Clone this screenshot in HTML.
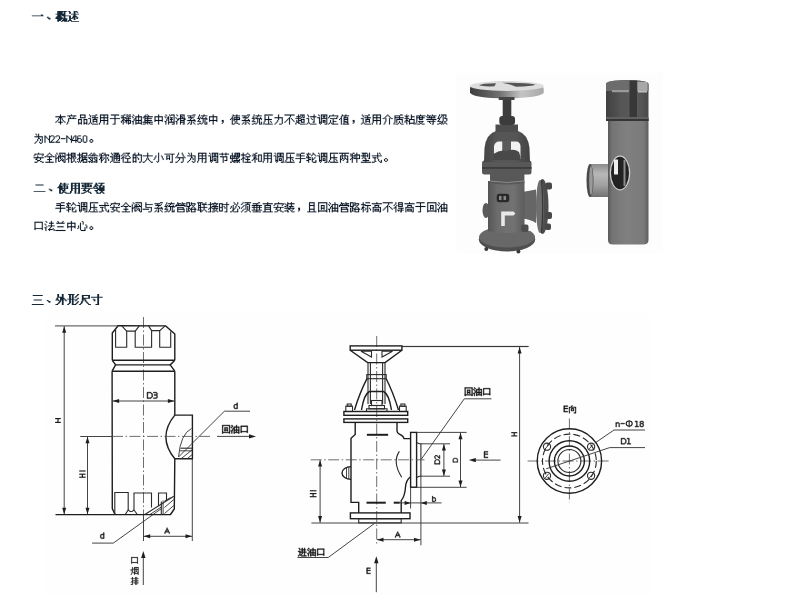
<!DOCTYPE html>
<html><head><meta charset="utf-8"><style>
html,body{margin:0;padding:0;background:#fff;width:800px;height:595px;overflow:hidden}
svg{display:block}
.k{fill:none;stroke:#1e1e1e;stroke-width:1.4}
.k2{fill:none;stroke:#2a2a2a;stroke-width:1.1}
.k3{fill:none;stroke:#1e1e1e;stroke-width:2}
.t{fill:none;stroke:#303030;stroke-width:0.9}
.c{fill:none;stroke:#4a4a4a;stroke-width:0.8;stroke-dasharray:11 2.5 1.5 2.5}
.dash{fill:none;stroke:#2a2a2a;stroke-width:1.1;stroke-dasharray:7 3}
.ah{fill:#1e1e1e;stroke:none}
.lb{fill:none;stroke:#1a1a1a;stroke-width:1.15}
</style></head><body>
<svg width="800" height="595" viewBox="0 0 800 595">
<rect x="456.5" y="72.7" width="206.2" height="180.9" fill="#fdfdfd"/>
<rect x="45.7" y="313.3" width="604.5" height="282" fill="#fefefe"/>
<defs><path id="g0" d="M10 -7h2v1h-2zM0 -6h13v1h-13z"/><path id="g1" d="M3 -2h2v1h-2zM4 -1h3v1h-3zM5 0h2v1h-2z"/><path id="g2" d="M9 -10h2v2h-2zM2 -6h4v1h-4zM7 -6h6v1h-6zM2 -11h11v1h-11zM2 -10h6v2h-6zM9 -5h2v2h-2zM0 -8h11v1h-11zM2 -7h9v1h-9zM2 -1h4v1h-4zM7 -1h6v1h-6zM1 -5h6v1h-6zM0 -4h8v1h-8zM0 -3h13v1h-13zM2 -2h5v1h-5zM8 -2h5v1h-5zM2 0h2v1h-2zM6 0h2v1h-2zM9 0h4v1h-4z"/><path id="g3" d="M7 -10h2v2h-2zM2 -10h2v2h-2zM10 -10h2v1h-2zM7 -7h2v1h-2zM2 -5h2v2h-2zM4 -8h9v1h-9zM1 -11h2v1h-2zM7 -11h4v1h-4zM2 -2h2v1h-2zM7 -3h2v2h-2zM10 -4h2v2h-2zM4 0h9v1h-9zM0 -6h4v1h-4zM6 -6h4v1h-4zM6 -5h5v1h-5zM5 -4h4v1h-4zM2 -3h4v1h-4zM1 -1h4v1h-4zM0 0h2v1h-2z"/><path id="g4" d="M5 -10h1v2h-1zM5 -6h1v4h-1zM5 -1h1v2h-1zM0 -8h11v1h-11zM4 -7h3v1h-3zM3 -6h1v2h-1zM7 -6h1v2h-1zM2 -4h1v1h-1zM8 -4h1v1h-1zM1 -3h1v1h-1zM9 -3h1v1h-1zM0 -2h1v1h-1zM3 -2h5v1h-5zM10 -2h1v1h-1z"/><path id="g5" d="M5 -10h1v1h-1zM1 -9h10v1h-10zM3 -8h1v1h-1zM8 -8h1v1h-1zM4 -7h1v1h-1zM7 -7h1v1h-1zM2 -6h9v1h-9zM2 -5h1v3h-1zM1 -2h1v2h-1zM0 0h1v1h-1z"/><path id="g6" d="M3 -10h6v1h-6zM1 -5h4v1h-4zM7 -5h4v1h-4zM1 -4h1v3h-1zM4 -4h1v3h-1zM7 -4h1v3h-1zM10 -4h1v3h-1zM3 -7h6v1h-6zM3 -9h1v2h-1zM8 -9h1v2h-1zM1 -1h4v1h-4zM7 -1h4v1h-4zM1 0h1v1h-1zM4 0h1v1h-1zM7 0h1v1h-1zM10 0h1v1h-1z"/><path id="g7" d="M7 -8h1v1h-1zM2 -9h1v2h-1zM5 -5h5v1h-5zM5 -4h1v1h-1zM9 -4h1v1h-1zM1 -10h1v1h-1zM4 -7h7v1h-7zM1 -1h1v1h-1zM8 -10h2v1h-2zM2 -5h1v4h-1zM4 -9h4v1h-4zM7 -6h1v1h-1zM4 0h7v1h-7zM0 -6h3v1h-3zM5 -3h5v1h-5zM5 -2h1v1h-1zM9 -2h1v1h-1zM3 -1h1v1h-1zM0 0h1v1h-1z"/><path id="g8" d="M1 -10h9v1h-9zM1 -9h1v2h-1zM5 -9h1v2h-1zM9 -9h1v2h-1zM1 -7h9v1h-9zM1 -6h1v2h-1zM5 -6h1v2h-1zM9 -6h1v2h-1zM1 -4h9v1h-9zM1 -3h1v2h-1zM5 -3h1v4h-1zM9 -3h1v3h-1zM0 -1h1v2h-1zM8 0h2v1h-2z"/><path id="g9" d="M5 -9h1v3h-1zM1 -10h9v1h-9zM5 -5h1v5h-1zM0 -6h11v1h-11zM3 0h3v1h-3z"/><path id="g10" d="M6 -10h2v1h-2zM9 -10h2v1h-2zM8 -9h1v1h-1zM2 -8h1v1h-1zM8 -7h1v1h-1zM2 -6h1v1h-1zM8 -5h1v1h-1zM6 -5h1v1h-1zM8 -3h1v2h-1zM3 -10h2v1h-2zM6 -8h2v1h-2zM9 -8h2v1h-2zM0 -9h3v1h-3zM8 0h1v1h-1zM2 -3h1v4h-1zM0 -7h6v1h-6zM5 -6h6v1h-6zM2 -5h2v1h-2zM6 -2h1v2h-1zM1 -4h2v1h-2zM4 -4h7v1h-7zM0 -3h1v2h-1zM5 -3h2v1h-2zM10 -3h1v2h-1zM4 -2h1v1h-1zM8 -1h3v1h-3z"/><path id="g11" d="M1 -10h1v1h-1zM7 -10h1v2h-1zM2 -9h1v1h-1zM4 -7h1v1h-1zM4 -8h7v1h-7zM4 -5h1v1h-1zM7 -7h1v3h-1zM10 -7h1v3h-1zM1 -7h1v1h-1zM4 -4h7v1h-7zM4 -3h1v2h-1zM10 -3h1v2h-1zM1 -2h1v3h-1zM7 -3h1v2h-1zM2 -5h1v2h-1zM0 -8h1v1h-1zM4 -1h7v1h-7zM4 0h1v1h-1zM10 0h1v1h-1zM3 -6h2v1h-2zM0 -3h2v1h-2z"/><path id="g12" d="M2 -9h1v1h-1zM5 -10h1v1h-1zM2 -7h1v1h-1zM5 -7h1v1h-1zM2 -6h8v1h-8zM2 -5h1v1h-1zM5 -5h1v1h-1zM3 -10h1v1h-1zM5 -3h1v1h-1zM3 -1h1v1h-1zM5 -1h1v2h-1zM2 -3h1v1h-1zM6 -9h1v1h-1zM1 -8h10v1h-10zM0 -7h1v1h-1zM2 -4h8v1h-8zM0 -2h11v1h-11zM7 -1h1v1h-1zM0 0h3v1h-3zM8 0h3v1h-3z"/><path id="g13" d="M5 -10h1v2h-1zM1 -8h9v1h-9zM1 -7h1v3h-1zM5 -7h1v3h-1zM9 -7h1v3h-1zM5 -3h1v4h-1zM1 -4h9v1h-9zM1 -3h1v1h-1zM9 -3h1v1h-1z"/><path id="g14" d="M1 -10h1v1h-1zM2 -9h1v1h-1zM4 -8h1v1h-1zM6 -7h3v1h-3zM7 -6h1v1h-1zM1 -7h1v1h-1zM4 -5h1v3h-1zM10 -9h1v7h-1zM1 -2h1v3h-1zM5 -10h1v1h-1zM7 -10h4v1h-4zM2 -5h1v2h-1zM6 -9h1v1h-1zM10 -1h1v1h-1zM0 -8h1v1h-1zM4 -1h1v2h-1zM3 -7h2v2h-2zM6 -5h3v1h-3zM7 -4h1v2h-1zM0 -3h2v1h-2zM4 -2h7v1h-7zM8 0h3v1h-3z"/><path id="g15" d="M5 -9h1v1h-1zM1 -10h1v1h-1zM5 -7h1v1h-1zM2 -9h1v1h-1zM5 -10h5v1h-5zM5 -5h1v1h-1zM9 -9h1v3h-1zM1 -6h1v1h-1zM5 -4h5v1h-5zM5 -3h1v1h-1zM9 -3h1v1h-1zM1 -2h1v3h-1zM5 -2h5v1h-5zM2 -4h1v1h-1zM5 -1h1v2h-1zM9 -1h1v1h-1zM5 -8h3v1h-3zM0 -7h1v1h-1zM7 -7h1v1h-1zM3 -6h8v1h-8zM2 -5h2v1h-2zM9 -5h2v1h-2zM0 -3h2v1h-2zM8 0h2v1h-2z"/><path id="g16" d="M4 -8h1v1h-1zM8 -8h1v1h-1zM5 -6h1v1h-1zM8 -5h1v1h-1zM9 -3h1v1h-1zM7 -10h3v1h-3zM1 -9h6v1h-6zM4 -5h1v1h-1zM8 -1h1v1h-1zM2 -7h6v1h-6zM5 -3h1v3h-1zM1 -4h9v1h-9zM9 0h1v1h-1zM3 -2h1v1h-1zM7 -2h1v1h-1zM2 -1h1v1h-1zM1 0h1v1h-1zM4 0h2v1h-2z"/><path id="g17" d="M4 -9h7v1h-7zM2 -10h1v2h-1zM6 -8h1v1h-1zM1 -8h1v2h-1zM10 -5h1v1h-1zM5 -7h1v1h-1zM2 -5h1v1h-1zM7 -10h1v1h-1zM4 -6h7v1h-7zM1 -4h1v1h-1zM6 -5h1v4h-1zM3 -7h1v1h-1zM5 -1h1v1h-1zM9 -7h1v1h-1zM0 -6h3v1h-3zM8 -5h1v5h-1zM10 -2h1v2h-1zM0 -3h4v1h-4zM2 -1h2v1h-2zM0 0h2v1h-2zM4 0h1v1h-1zM8 0h3v1h-3z"/><path id="g18" d="M3 -4h2v2h-2zM4 -2h1v1h-1zM3 -1h1v1h-1z"/><path id="g19" d="M7 -10h1v1h-1zM7 -8h1v1h-1zM2 -8h1v2h-1zM4 -7h7v1h-7zM4 -6h1v1h-1zM7 -6h1v1h-1zM5 -3h1v1h-1zM3 -10h1v1h-1zM7 -4h1v2h-1zM3 -9h8v1h-8zM2 -5h1v5h-1zM4 -5h7v1h-7zM1 -6h2v1h-2zM4 -4h1v1h-1zM10 -6h1v1h-1zM0 -5h1v1h-1zM5 -1h1v1h-1zM6 -2h1v1h-1zM7 -1h2v1h-2zM2 0h3v1h-3zM9 0h2v1h-2z"/><path id="g20" d="M2 -9h1v4h-1zM6 -8h1v3h-1zM2 -10h9v1h-9zM2 0h9v1h-9zM2 -4h1v2h-1zM6 -4h1v4h-1zM2 -5h8v1h-8zM8 -3h1v1h-1zM1 -2h1v2h-1zM9 -2h1v1h-1zM0 0h1v1h-1z"/><path id="g21" d="M5 -10h1v3h-1zM5 -6h1v2h-1zM1 -7h9v1h-9zM9 -6h1v6h-1zM4 -4h1v2h-1zM3 -2h1v1h-1zM2 -1h1v1h-1zM1 0h1v1h-1zM6 0h3v1h-3z"/><path id="g22" d="M5 -7h1v1h-1zM0 -10h11v1h-11zM6 -9h1v2h-1zM5 -5h1v6h-1zM4 -6h2v1h-2zM7 -6h1v1h-1zM3 -5h1v1h-1zM8 -5h1v1h-1zM2 -4h1v1h-1zM9 -4h1v1h-1zM1 -3h1v1h-1zM10 -3h1v1h-1zM0 -2h1v1h-1z"/><path id="g23" d="M3 -10h1v2h-1zM3 -7h1v1h-1zM9 -9h1v2h-1zM3 -5h1v1h-1zM6 -7h1v1h-1zM6 -5h4v1h-4zM3 -3h1v1h-1zM5 -10h5v1h-5zM7 -9h1v2h-1zM9 -4h1v2h-1zM1 -8h5v1h-5zM6 -3h1v1h-1zM8 -7h2v1h-2zM0 -6h6v1h-6zM6 -2h4v1h-4zM1 -4h1v2h-1zM3 -4h4v1h-4zM1 -2h3v1h-3zM0 -1h1v2h-1zM3 -1h2v1h-2zM5 0h6v1h-6z"/><path id="g24" d="M8 -10h1v2h-1zM2 -9h1v2h-1zM1 -10h1v1h-1zM4 -8h7v1h-7zM1 -1h1v1h-1zM8 -7h1v5h-1zM2 -5h1v4h-1zM4 0h7v1h-7zM0 -6h3v1h-3zM5 -6h1v1h-1zM6 -5h1v1h-1zM7 -2h2v1h-2zM3 -1h1v1h-1zM0 0h1v1h-1z"/><path id="g25" d="M7 -9h1v1h-1zM2 -9h1v1h-1zM4 -10h7v1h-7zM4 -9h1v3h-1zM10 -9h1v3h-1zM6 -8h3v1h-3zM6 -4h3v1h-3zM2 -6h1v4h-1zM4 -5h1v3h-1zM1 -10h1v1h-1zM4 -6h7v1h-7zM2 -1h1v1h-1zM4 -1h1v1h-1zM7 -7h1v1h-1zM10 -5h1v5h-1zM6 -2h3v1h-3zM0 -7h3v1h-3zM6 -3h1v1h-1zM8 -3h1v1h-1zM2 -2h3v1h-3zM3 0h1v1h-1zM8 0h3v1h-3z"/><path id="g26" d="M5 -10h1v1h-1zM5 -5h1v2h-1zM1 -8h1v1h-1zM0 -7h1v1h-1zM5 -2h1v2h-1zM1 -9h10v1h-10zM1 -1h1v1h-1zM10 -8h1v1h-1zM0 0h1v1h-1zM9 -7h1v1h-1zM2 -6h8v1h-8zM2 -4h1v3h-1zM5 -3h4v1h-4zM3 -1h1v1h-1zM4 0h7v1h-7z"/><path id="g27" d="M2 -8h1v2h-1zM5 -7h5v1h-5zM5 -6h1v1h-1zM9 -6h1v1h-1zM5 -4h1v1h-1zM9 -4h1v2h-1zM3 -10h1v1h-1zM7 -10h1v1h-1zM3 -9h8v1h-8zM2 -5h1v6h-1zM6 -8h1v1h-1zM5 -5h5v1h-5zM1 -6h2v1h-2zM5 -2h1v2h-1zM9 -1h1v1h-1zM0 -5h1v1h-1zM5 -3h3v1h-3zM7 -2h3v1h-3zM4 0h7v1h-7z"/><path id="g28" d="M3 -8h1v1h-1zM7 -8h1v1h-1zM2 -7h1v1h-1zM5 -10h1v1h-1zM4 -9h1v1h-1zM6 -9h1v1h-1zM3 -6h1v4h-1zM7 -6h1v7h-1zM2 -2h1v2h-1zM8 -7h1v1h-1zM0 -6h2v1h-2zM9 -6h2v1h-2zM1 0h1v1h-1z"/><path id="g29" d="M1 -8h1v1h-1zM6 -8h1v1h-1zM6 -6h1v1h-1zM7 -10h3v1h-3zM1 -9h6v1h-6zM1 -6h1v5h-1zM6 -3h1v2h-1zM1 -7h10v1h-10zM3 -5h7v1h-7zM3 -4h1v3h-1zM9 -4h1v3h-1zM0 -1h1v2h-1zM5 -1h1v1h-1zM7 -1h1v1h-1zM2 0h3v1h-3zM8 0h3v1h-3z"/><path id="g30" d="M2 -10h1v2h-1zM7 -10h1v2h-1zM2 -7h1v1h-1zM1 -8h3v1h-3zM0 -9h1v1h-1zM2 -5h1v1h-1zM5 -4h1v1h-1zM5 -5h6v1h-6zM5 -2h1v1h-1zM10 -4h1v3h-1zM2 -3h1v4h-1zM7 -7h1v2h-1zM0 -3h1v2h-1zM4 -9h1v1h-1zM1 -4h3v1h-3zM7 -8h4v1h-4zM0 -6h5v1h-5zM5 -1h6v1h-6zM5 0h1v1h-1zM10 0h1v1h-1zM4 -3h2v1h-2z"/><path id="g31" d="M1 -8h1v1h-1zM4 -8h1v1h-1zM7 -8h1v1h-1zM4 -6h1v1h-1zM7 -6h1v1h-1zM5 -10h1v1h-1zM1 -9h10v1h-10zM1 -6h1v5h-1zM4 -2h1v1h-1zM7 -2h1v1h-1zM1 -7h9v1h-9zM4 -5h4v1h-4zM3 -3h6v1h-6zM0 -1h1v2h-1zM5 -1h2v1h-2zM2 0h3v1h-3zM7 0h3v1h-3z"/><path id="g32" d="M5 -8h1v1h-1zM1 -7h9v1h-9zM3 -8h1v1h-1zM7 -4h1v1h-1zM1 -10h1v1h-1zM6 -10h1v1h-1zM1 -9h4v1h-4zM6 -9h5v1h-5zM0 -8h1v1h-1zM3 -2h1v1h-1zM5 -6h1v1h-1zM8 -8h1v1h-1zM1 -3h9v1h-9zM0 -5h11v1h-11zM7 -2h1v2h-1zM4 -1h1v1h-1zM6 0h2v1h-2z"/><path id="g33" d="M2 -10h1v2h-1zM1 -8h1v2h-1zM9 -9h1v2h-1zM8 -7h1v1h-1zM5 -3h1v1h-1zM7 -3h1v1h-1zM9 -3h1v1h-1zM4 -8h1v1h-1zM6 -9h1v6h-1zM10 -5h1v2h-1zM2 -5h1v1h-1zM4 -10h6v1h-6zM6 0h1v1h-1zM9 -1h1v1h-1zM1 -4h1v1h-1zM4 0h1v1h-1zM3 -7h1v1h-1zM8 -2h1v1h-1zM0 -6h3v1h-3zM8 -6h3v1h-3zM10 0h1v1h-1zM0 -3h4v1h-4zM5 -1h1v1h-1zM7 -1h1v1h-1zM4 -2h2v1h-2zM2 -1h2v1h-2zM0 0h2v1h-2z"/><path id="g34" d="M5 -10h1v3h-1zM3 -9h1v1h-1zM2 -10h1v1h-1zM2 -1h1v1h-1zM5 -6h1v1h-1zM3 -2h1v1h-1zM1 -7h9v1h-9zM9 -6h1v6h-1zM5 -5h2v1h-2zM4 -4h1v2h-1zM7 -4h1v2h-1zM6 -1h1v1h-1zM1 0h1v1h-1zM7 0h2v1h-2z"/><path id="g35" d="M0 -8h1v1h-1zM5 -8h1v4h-1zM0 -6h1v6h-1zM5 -3h1v3h-1zM0 -7h2v1h-2zM2 -6h1v1h-1zM3 -5h1v1h-1zM4 -4h2v1h-2z"/><path id="g36" d="M1 -8h3v1h-3zM0 -7h1v1h-1zM4 -7h1v3h-1zM3 -4h1v1h-1zM2 -3h1v1h-1zM1 -2h1v1h-1zM0 -1h5v1h-5z"/><path id="g37" d="M0 -5h5v1h-5z"/><path id="g38" d="M4 -7h1v4h-1zM3 -8h2v1h-2zM2 -7h1v1h-1zM4 -2h1v2h-1zM1 -6h1v2h-1zM0 -4h1v1h-1zM0 -3h6v1h-6z"/><path id="g39" d="M0 -7h1v2h-1zM1 -8h3v1h-3zM1 -1h3v1h-3zM0 -4h1v3h-1zM0 -5h4v1h-4zM4 -4h1v3h-1z"/><path id="g40" d="M1 -8h3v1h-3zM1 -1h3v1h-3zM0 -7h1v6h-1zM4 -7h1v6h-1z"/><path id="g41" d="M4 -4h2v1h-2zM4 -1h2v1h-2zM3 -3h1v2h-1zM6 -3h1v2h-1z"/><path id="g42" d="M4 -7h1v2h-1zM5 -10h1v1h-1zM1 -9h10v1h-10zM1 -8h1v1h-1zM10 -8h1v1h-1zM0 -7h1v1h-1zM4 -1h1v1h-1zM9 -7h1v1h-1zM0 -5h11v1h-11zM3 -4h1v1h-1zM7 -4h1v2h-1zM2 -3h2v1h-2zM4 -2h3v1h-3zM7 -1h2v1h-2zM1 0h3v1h-3zM9 0h2v1h-2z"/><path id="g43" d="M5 -10h1v1h-1zM3 -6h5v1h-5zM5 -5h1v2h-1zM5 -2h1v2h-1zM4 -9h1v1h-1zM6 -9h1v1h-1zM3 -8h1v1h-1zM7 -8h1v1h-1zM2 -7h1v1h-1zM8 -7h1v1h-1zM0 -6h2v1h-2zM3 -3h5v1h-5zM9 -6h2v1h-2zM1 0h9v1h-9z"/><path id="g44" d="M5 -7h1v1h-1zM10 -9h1v3h-1zM3 -7h1v1h-1zM7 -8h1v1h-1zM0 -8h1v4h-1zM8 -7h1v1h-1zM5 -5h1v2h-1zM8 -3h1v1h-1zM1 -10h1v1h-1zM4 -10h7v1h-7zM2 -9h1v1h-1zM10 -5h1v5h-1zM0 -3h1v4h-1zM4 -8h2v1h-2zM7 -4h1v1h-1zM3 -4h1v3h-1zM5 -2h1v1h-1zM8 -1h1v1h-1zM3 -6h8v1h-8zM2 -5h2v1h-2zM0 -4h2v1h-2zM6 -3h1v1h-1zM7 -2h2v1h-2zM3 -1h2v1h-2zM9 0h2v1h-2z"/><path id="g45" d="M2 -10h1v2h-1zM5 -9h1v1h-1zM9 -9h1v1h-1zM5 -10h5v1h-5zM5 -7h1v1h-1zM9 -7h1v1h-1zM2 -7h1v2h-1zM5 -5h1v1h-1zM7 -5h1v2h-1zM9 -4h1v1h-1zM10 -5h1v1h-1zM2 -3h1v4h-1zM5 -6h5v1h-5zM5 -3h1v3h-1zM9 -1h1v1h-1zM0 -8h10v1h-10zM2 -5h2v1h-2zM7 -1h1v1h-1zM10 0h1v1h-1zM1 -4h2v1h-2zM4 -4h2v1h-2zM0 -3h1v1h-1zM8 -3h1v2h-1zM5 0h2v1h-2z"/><path id="g46" d="M2 -10h1v2h-1zM5 -10h6v1h-6zM5 -7h6v1h-6zM5 -9h1v1h-1zM8 -6h1v1h-1zM2 -7h1v2h-1zM5 -5h6v1h-6zM10 -9h1v2h-1zM0 -3h1v1h-1zM2 -3h1v3h-1zM5 -3h6v1h-6zM5 -4h1v1h-1zM10 -2h1v2h-1zM0 -8h6v1h-6zM4 -6h2v1h-2zM8 -4h1v1h-1zM2 -5h2v1h-2zM1 -4h2v1h-2zM0 -1h1v1h-1zM4 -2h3v1h-3zM4 -1h1v1h-1zM6 -1h1v1h-1zM1 0h1v1h-1zM3 0h1v1h-1zM6 0h5v1h-5z"/><path id="g47" d="M6 -10h1v1h-1zM1 -8h1v1h-1zM4 -8h1v1h-1zM6 -8h1v1h-1zM2 -9h1v1h-1zM7 -9h1v1h-1zM4 -4h1v2h-1zM9 -4h1v2h-1zM1 -4h1v1h-1zM3 -2h2v1h-2zM6 -4h1v1h-1zM8 -2h2v1h-2zM3 -10h1v1h-1zM6 0h1v1h-1zM2 -3h1v1h-1zM5 -9h1v1h-1zM7 -3h1v1h-1zM1 0h1v1h-1zM4 -1h1v1h-1zM8 -8h1v1h-1zM0 -7h1v1h-1zM2 -7h6v1h-6zM9 -7h2v1h-2zM0 -5h5v1h-5zM6 -5h4v1h-4zM9 -1h1v1h-1zM3 0h2v1h-2zM8 0h2v1h-2zM0 -1h3v1h-3zM6 -1h2v1h-2z"/><path id="g48" d="M2 -8h1v1h-1zM2 -6h1v1h-1zM10 -7h1v1h-1zM2 -3h1v1h-1zM3 -10h2v1h-2zM6 -10h1v2h-1zM0 -9h3v1h-3zM2 -1h1v2h-1zM5 -8h6v1h-6zM0 -7h5v1h-5zM7 -7h1v7h-1zM10 -3h1v2h-1zM1 -5h3v1h-3zM5 -5h1v2h-1zM9 -5h1v2h-1zM1 -4h2v1h-2zM0 -3h1v1h-1zM4 -3h1v1h-1zM2 -2h2v1h-2zM6 0h2v1h-2z"/><path id="g49" d="M4 -8h7v1h-7zM2 -9h1v2h-1zM4 -7h1v1h-1zM7 -7h1v1h-1zM10 -7h1v1h-1zM4 -6h7v1h-7zM4 -5h1v1h-1zM7 -5h1v1h-1zM10 -5h1v1h-1zM1 -10h1v1h-1zM4 -4h7v1h-7zM1 -1h1v1h-1zM4 -10h6v1h-6zM2 -5h1v4h-1zM6 -9h1v1h-1zM8 -9h1v1h-1zM4 0h7v1h-7zM4 -3h1v2h-1zM7 -3h1v2h-1zM10 -3h1v1h-1zM0 -6h3v1h-3zM9 -2h2v1h-2zM3 -1h1v1h-1zM0 0h1v1h-1z"/><path id="g50" d="M3 -10h1v1h-1zM8 -9h1v1h-1zM2 -9h1v1h-1zM4 -8h1v1h-1zM0 -7h1v1h-1zM2 -6h1v1h-1zM5 -10h5v1h-5zM7 -8h1v1h-1zM3 -7h1v1h-1zM5 -4h5v1h-5zM2 -4h1v5h-1zM8 -7h1v1h-1zM1 -8h1v1h-1zM4 -5h1v1h-1zM7 -3h1v3h-1zM0 -4h1v1h-1zM6 -7h1v1h-1zM5 -6h1v1h-1zM9 -6h1v1h-1zM1 -5h2v1h-2zM10 -5h1v1h-1zM4 0h7v1h-7z"/><path id="g51" d="M1 -8h4v1h-4zM1 -7h1v2h-1zM4 -6h1v1h-1zM7 -10h1v2h-1zM1 -5h4v1h-4zM1 -4h1v3h-1zM4 -4h1v3h-1zM3 -10h1v1h-1zM7 -4h1v2h-1zM2 -9h1v1h-1zM1 -1h4v1h-4zM6 -8h5v1h-5zM1 0h1v1h-1zM4 -7h2v1h-2zM10 -7h1v7h-1zM4 0h1v1h-1zM6 -5h1v1h-1zM8 0h2v1h-2z"/><path id="g52" d="M5 -10h1v3h-1zM5 -6h1v2h-1zM0 -7h11v1h-11zM4 -4h1v2h-1zM6 -4h1v2h-1zM3 -2h1v1h-1zM7 -2h1v1h-1zM2 -1h1v1h-1zM8 -1h1v1h-1zM0 0h2v1h-2zM9 0h2v1h-2z"/><path id="g53" d="M5 -10h1v10h-1zM2 -7h1v2h-1zM8 -7h1v1h-1zM9 -6h1v2h-1zM1 -5h1v2h-1zM10 -4h1v2h-1zM0 -3h1v1h-1zM3 -1h1v1h-1zM4 0h1v1h-1z"/><path id="g54" d="M2 -7h4v1h-4zM2 -6h1v2h-1zM5 -6h1v2h-1zM0 -9h11v1h-11zM8 -8h1v8h-1zM2 -4h4v1h-4zM2 -3h1v1h-1zM5 -3h1v1h-1zM6 0h3v1h-3z"/><path id="g55" d="M8 -8h1v2h-1zM3 -10h1v2h-1zM2 -8h1v2h-1zM3 -2h1v1h-1zM7 -10h1v2h-1zM2 -1h1v1h-1zM8 -4h1v4h-1zM1 -6h1v1h-1zM9 -6h1v1h-1zM0 -5h1v1h-1zM2 -5h7v1h-7zM10 -5h1v1h-1zM4 -4h1v2h-1zM0 0h2v1h-2zM6 0h2v1h-2z"/><path id="g56" d="M3 -10h1v1h-1zM7 -10h1v1h-1zM3 -8h1v1h-1zM7 -8h1v1h-1zM0 -9h11v1h-11zM1 -6h8v1h-8zM4 -5h1v6h-1zM8 -5h1v3h-1zM6 -2h3v1h-3z"/><path id="g57" d="M5 -10h6v1h-6zM8 -9h1v1h-1zM10 -9h1v1h-1zM2 -10h1v3h-1zM2 -6h1v2h-1zM7 -5h1v1h-1zM10 -7h1v1h-1zM4 -6h7v1h-7zM10 -3h1v1h-1zM2 -3h1v2h-1zM5 -8h6v1h-6zM5 -9h1v1h-1zM8 -7h1v1h-1zM10 0h1v1h-1zM0 -7h6v1h-6zM0 -6h1v2h-1zM4 -2h7v1h-7zM4 -5h1v1h-1zM7 -3h1v1h-1zM9 -5h1v1h-1zM0 -4h9v1h-9zM2 -1h3v1h-3zM6 -1h1v1h-1zM8 -1h2v1h-2zM0 0h2v1h-2zM4 0h2v1h-2zM7 0h2v1h-2z"/><path id="g58" d="M2 -10h1v2h-1zM7 -10h1v1h-1zM2 -7h1v2h-1zM5 -6h5v1h-5zM7 -5h1v2h-1zM2 -3h1v4h-1zM7 -2h1v2h-1zM6 -9h1v1h-1zM8 -9h1v1h-1zM0 -8h6v1h-6zM9 -8h1v1h-1zM10 -7h1v1h-1zM5 -3h5v1h-5zM2 -5h2v1h-2zM1 -4h2v1h-2zM4 -4h1v1h-1zM0 -3h1v1h-1zM4 0h7v1h-7z"/><path id="g59" d="M3 -8h1v1h-1zM3 -6h1v1h-1zM7 -8h4v1h-4zM4 -10h2v1h-2zM1 -9h3v1h-3zM3 -3h1v4h-1zM7 -1h4v1h-4zM0 -7h6v1h-6zM7 -7h1v6h-1zM10 -7h1v6h-1zM2 -5h3v1h-3zM2 -4h2v1h-2zM5 -4h1v2h-1zM1 -3h1v1h-1zM0 -2h1v1h-1z"/><path id="g60" d="M5 -8h1v1h-1zM5 -6h1v2h-1zM6 -10h4v1h-4zM1 -9h5v1h-5zM5 -3h1v3h-1zM1 -7h9v1h-9zM0 -4h11v1h-11zM4 0h2v1h-2z"/><path id="g61" d="M2 -10h1v1h-1zM0 -9h5v1h-5zM6 -8h1v1h-1zM9 -8h1v1h-1zM2 -6h1v1h-1zM6 -5h1v2h-1zM10 -7h1v1h-1zM2 -4h1v1h-1zM2 -1h1v2h-1zM7 -10h1v1h-1zM0 -5h5v1h-5zM7 -9h2v1h-2zM1 -8h1v1h-1zM6 -2h1v2h-1zM9 -5h1v1h-1zM1 -7h2v1h-2zM5 -7h1v1h-1zM10 -2h1v2h-1zM0 -6h1v1h-1zM8 -4h1v1h-1zM2 -3h3v1h-3zM6 -3h2v1h-2zM0 -2h3v1h-3zM7 0h4v1h-4z"/><path id="g62" d="M3 -9h1v2h-1zM6 -9h1v2h-1zM1 -6h1v3h-1zM9 -6h1v3h-1zM8 -3h2v1h-2zM0 -10h11v1h-11zM3 -6h1v2h-1zM6 -6h1v2h-1zM1 -7h9v1h-9zM1 -2h1v3h-1zM9 -2h1v2h-1zM3 -4h2v1h-2zM6 -4h2v1h-2zM1 -3h2v1h-2zM5 -3h1v1h-1zM8 0h2v1h-2zM4 -2h1v1h-1z"/><path id="g63" d="M7 -10h1v2h-1zM2 -8h1v1h-1zM2 -6h1v1h-1zM7 -7h1v3h-1zM3 -10h2v1h-2zM7 -3h1v4h-1zM0 -9h3v1h-3zM2 -3h1v4h-1zM5 -8h6v1h-6zM0 -7h6v1h-6zM10 -7h1v3h-1zM5 -6h1v2h-1zM2 -5h2v1h-2zM1 -4h2v1h-2zM4 -4h7v1h-7zM0 -3h1v1h-1z"/><path id="g64" d="M2 -9h1v2h-1zM4 -9h1v2h-1zM7 -9h1v2h-1zM5 -3h1v1h-1zM1 -10h6v1h-6zM9 -10h1v6h-1zM2 -6h1v2h-1zM4 -6h1v2h-1zM7 -6h1v1h-1zM0 -7h8v1h-8zM1 -4h1v1h-1zM4 -4h2v1h-2zM8 -4h2v1h-2zM5 -1h1v1h-1zM2 -2h7v1h-7zM0 0h11v1h-11z"/><path id="g65" d="M6 -10h1v3h-1zM8 -10h1v1h-1zM6 -6h1v3h-1zM8 -1h1v1h-1zM9 -9h1v1h-1zM0 -7h11v1h-11zM1 -5h4v1h-4zM3 -4h1v3h-1zM7 -3h1v2h-1zM10 -2h1v2h-1zM3 -1h2v1h-2zM0 0h3v1h-3zM9 0h2v1h-2z"/><path id="g66" d="M2 -9h9v1h-9zM0 -2h13v1h-13z"/><path id="g67" d="M7 -11h2v1h-2zM7 -9h2v1h-2zM2 -8h10v1h-10zM7 -7h2v2h-2zM2 -9h2v1h-2zM2 -4h4v1h-4zM3 -11h2v1h-2zM7 -4h2v1h-2zM3 -10h10v1h-10zM2 -3h2v3h-2zM2 -5h10v1h-10zM1 -7h5v1h-5zM10 -7h2v2h-2zM0 -6h6v1h-6zM2 0h4v1h-4zM5 -3h4v1h-4zM6 -2h2v1h-2zM5 -1h5v1h-5zM9 0h4v1h-4z"/><path id="g68" d="M2 -11h10v1h-10zM2 -10h2v2h-2zM6 -10h2v2h-2zM10 -10h2v2h-2zM2 -8h10v1h-10zM2 -7h2v2h-2zM6 -7h2v2h-2zM10 -7h2v2h-2zM2 -5h10v1h-10zM2 -4h2v2h-2zM6 -4h2v5h-2zM10 -4h2v4h-2zM1 -2h2v2h-2zM0 0h2v1h-2zM9 0h3v1h-3z"/><path id="g69" d="M4 -10h2v1h-2zM7 -10h2v1h-2zM1 -9h11v1h-11zM4 -8h2v1h-2zM0 -11h13v1h-13zM7 -8h2v1h-2zM10 -8h2v1h-2zM0 -5h13v1h-13zM4 -6h2v1h-2zM7 -3h2v1h-2zM1 -7h11v1h-11zM1 -8h2v1h-2zM10 0h2v1h-2zM3 -4h2v1h-2zM8 -4h2v1h-2zM2 -3h4v1h-4zM5 -2h4v1h-4zM3 -1h3v1h-3zM8 -1h3v1h-3zM0 0h4v1h-4z"/><path id="g70" d="M5 -8h8v1h-8zM2 -9h4v1h-4zM7 -6h6v1h-6zM3 -11h2v2h-2zM9 -10h2v1h-2zM4 -6h2v1h-2zM11 -7h2v1h-2zM3 -2h2v1h-2zM6 -11h7v1h-7zM9 -2h2v1h-2zM2 -3h4v1h-4zM8 -9h2v1h-2zM2 -8h2v1h-2zM5 -4h8v1h-8zM1 -7h4v1h-4zM7 -7h2v1h-2zM11 0h2v1h-2zM0 -6h2v1h-2zM4 -1h2v1h-2zM7 -3h6v1h-6zM1 -5h12v1h-12zM8 -1h4v1h-4zM4 0h5v1h-5z"/><path id="g71" d="M3 -10h1v2h-1zM3 -7h1v2h-1zM3 -8h8v1h-8zM3 -5h7v1h-7zM9 -4h1v4h-1zM0 -3h7v1h-7zM6 0h3v1h-3z"/><path id="g72" d="M2 -10h1v1h-1zM8 -8h1v1h-1zM2 -4h1v1h-1zM2 -3h8v1h-8zM2 -2h1v2h-1zM7 -10h1v1h-1zM2 -9h4v1h-4zM7 -9h4v1h-4zM1 -8h1v1h-1zM3 -8h1v1h-1zM6 -8h1v1h-1zM8 -4h1v1h-1zM0 -7h11v1h-11zM0 -6h1v1h-1zM10 -6h1v1h-1zM2 -5h7v1h-7zM2 0h8v1h-8zM9 -2h1v2h-1z"/><path id="g73" d="M5 -10h1v1h-1zM0 -10h4v1h-4zM6 -7h1v1h-1zM8 -7h1v1h-1zM0 -9h1v3h-1zM5 -8h1v1h-1zM9 -8h1v1h-1zM2 -5h1v1h-1zM5 -4h1v1h-1zM9 -4h1v1h-1zM2 -4h2v1h-2zM5 -9h5v1h-5zM0 -6h4v1h-4zM5 -2h1v2h-1zM0 -4h1v4h-1zM3 -9h1v2h-1zM5 0h5v1h-5zM9 -2h1v2h-1zM3 -7h2v1h-2zM6 -5h1v1h-1zM8 -5h1v1h-1zM7 -6h1v1h-1zM2 -3h1v2h-1zM2 -1h2v1h-2zM4 -3h7v1h-7zM0 0h2v1h-2z"/><path id="g74" d="M1 -9h1v2h-1zM3 -9h1v2h-1zM1 -6h1v1h-1zM3 -6h1v1h-1zM7 -7h1v2h-1zM6 -9h1v1h-1zM8 -9h1v1h-1zM3 -4h1v2h-1zM9 -10h1v1h-1zM0 -10h6v1h-6zM9 -1h1v1h-1zM1 -4h1v2h-1zM3 -1h1v1h-1zM6 -2h1v1h-1zM8 -2h1v1h-1zM5 -8h6v1h-6zM1 -7h3v1h-3zM7 -4h1v2h-1zM1 -5h10v1h-10zM0 -2h5v1h-5zM5 -1h1v1h-1zM3 0h2v1h-2zM10 0h1v1h-1z"/><path id="g75" d="M2 -10h1v2h-1zM4 -9h7v1h-7zM7 -10h1v1h-1zM4 -6h7v1h-7zM2 -7h1v2h-1zM6 -7h1v1h-1zM9 -8h1v1h-1zM8 -7h1v1h-1zM7 -5h1v1h-1zM9 -3h1v1h-1zM2 -3h1v3h-1zM7 -1h1v1h-1zM4 -4h7v1h-7zM0 -8h4v1h-4zM5 -8h1v1h-1zM9 -1h1v1h-1zM6 -3h1v1h-1zM8 -2h1v1h-1zM2 -5h2v1h-2zM1 -4h2v1h-2zM0 -3h1v1h-1zM5 -2h2v1h-2zM0 0h3v1h-3zM4 0h3v1h-3zM10 0h1v1h-1z"/><path id="g76" d="M8 -10h1v2h-1zM0 -9h4v1h-4zM0 -8h1v3h-1zM3 -7h1v2h-1zM0 -5h4v1h-4zM8 -7h1v7h-1zM0 -1h4v1h-4zM0 -4h1v3h-1zM3 -8h8v1h-8zM3 -4h1v3h-1zM5 -6h1v1h-1zM6 -5h1v2h-1zM6 0h3v1h-3z"/><path id="g77" d="M5 -9h1v2h-1zM8 -10h1v2h-1zM3 -7h1v4h-1zM4 -10h1v1h-1zM8 -3h1v3h-1zM5 -4h1v1h-1zM7 -8h1v2h-1zM3 -2h1v1h-1zM1 -6h1v2h-1zM6 -6h1v2h-1zM9 -6h1v1h-1zM10 -5h1v2h-1zM0 -4h1v1h-1zM3 -3h2v1h-2zM2 -1h2v1h-2zM0 0h2v1h-2zM4 0h5v1h-5z"/><path id="g78" d="M2 -10h1v1h-1zM7 -9h1v1h-1zM1 -9h1v1h-1zM0 -8h1v1h-1zM3 -7h1v1h-1zM2 -6h1v1h-1zM1 -5h1v1h-1zM9 -7h1v5h-1zM0 -4h1v1h-1zM2 -2h1v1h-1zM4 -10h7v1h-7zM1 -1h1v1h-1zM7 -6h1v4h-1zM0 0h1v1h-1zM5 -8h5v1h-5zM3 -3h1v1h-1zM5 -7h1v5h-1zM9 -1h1v1h-1zM7 -2h2v1h-2zM6 -1h1v1h-1zM4 0h2v1h-2zM10 0h1v1h-1z"/><path id="g79" d="M5 -8h1v1h-1zM0 -7h11v1h-11zM2 -6h1v1h-1zM5 -6h1v1h-1zM8 -6h1v1h-1zM0 -5h11v1h-11zM5 -4h1v2h-1zM7 -10h2v1h-2zM1 -9h6v1h-6zM5 -1h1v1h-1zM0 -2h11v1h-11zM2 -4h1v2h-1zM8 -4h1v2h-1zM1 0h9v1h-9z"/><path id="g80" d="M5 -10h1v1h-1zM2 -7h7v1h-7zM2 -6h1v1h-1zM8 -6h1v1h-1zM2 -5h7v1h-7zM2 -4h1v1h-1zM8 -4h1v1h-1zM0 -9h11v1h-11zM5 -8h1v1h-1zM0 0h11v1h-11zM2 -3h7v1h-7zM2 -2h1v2h-1zM8 -2h1v2h-1z"/><path id="g81" d="M3 -10h1v1h-1zM7 -10h1v1h-1zM3 -8h1v1h-1zM2 -7h2v1h-2zM6 -5h1v1h-1zM0 -6h2v1h-2zM3 -6h1v2h-1zM7 -8h1v2h-1zM3 -1h1v1h-1zM7 -1h1v1h-1zM0 -9h1v1h-1zM3 -9h8v1h-8zM1 -8h1v1h-1zM2 -2h2v1h-2zM0 -1h2v1h-2zM5 -6h5v1h-5zM6 -2h1v1h-1zM0 -4h11v1h-11zM4 -3h2v1h-2zM9 -3h1v1h-1zM8 -2h1v1h-1zM3 0h2v1h-2zM8 0h3v1h-3z"/><path id="g82" d="M3 -10h6v1h-6zM3 -9h1v2h-1zM8 -9h1v2h-1zM3 -7h6v1h-6zM3 -6h1v3h-1zM8 -6h1v3h-1zM3 -3h6v1h-6zM3 -2h1v2h-1zM8 -2h1v2h-1zM1 0h10v1h-10z"/><path id="g83" d="M4 -7h4v1h-4zM4 -6h1v2h-1zM7 -6h1v2h-1zM1 -10h10v1h-10zM1 -9h1v8h-1zM10 -9h1v8h-1zM1 -1h10v1h-10zM1 0h1v1h-1zM10 0h1v1h-1zM4 -4h4v1h-4zM4 -3h1v1h-1zM7 -3h1v1h-1z"/><path id="g84" d="M2 -10h1v2h-1zM2 -7h1v2h-1zM2 -3h1v4h-1zM5 -10h5v1h-5zM0 -8h5v1h-5zM4 -7h7v1h-7zM7 -6h1v6h-1zM1 -5h3v1h-3zM1 -4h2v1h-2zM5 -4h1v2h-1zM9 -4h1v1h-1zM0 -3h1v1h-1zM10 -3h1v2h-1zM4 -2h1v1h-1zM6 0h2v1h-2z"/><path id="g85" d="M3 -7h5v1h-5zM3 -6h1v1h-1zM7 -6h1v1h-1zM3 -3h5v1h-5zM5 -10h1v1h-1zM0 -9h11v1h-11zM3 -1h5v1h-5zM3 -2h1v1h-1zM7 -2h1v1h-1zM1 -5h9v1h-9zM1 -4h1v5h-1zM9 -4h1v4h-1zM8 0h2v1h-2z"/><path id="g86" d="M5 -10h5v1h-5zM5 -9h1v1h-1zM9 -9h1v1h-1zM2 -10h1v2h-1zM5 -8h5v1h-5zM0 -7h1v1h-1zM2 -6h1v1h-1zM5 -7h1v1h-1zM8 -3h1v1h-1zM2 -4h1v5h-1zM5 -6h5v1h-5zM5 -1h1v1h-1zM9 -7h1v1h-1zM1 -8h1v1h-1zM0 -4h1v1h-1zM3 -7h1v1h-1zM1 -5h2v1h-2zM5 -4h6v1h-6zM8 -1h1v1h-1zM4 -2h7v1h-7zM7 0h2v1h-2z"/><path id="g87" d="M1 -9h9v1h-9zM1 -8h1v6h-1zM9 -8h1v6h-1zM1 -2h9v1h-9zM1 -1h1v1h-1zM9 -1h1v1h-1z"/><path id="g88" d="M7 -10h1v2h-1zM1 -10h1v1h-1zM2 -9h1v1h-1zM7 -7h1v2h-1zM1 -6h1v1h-1zM5 -2h1v1h-1zM1 -2h1v3h-1zM7 -4h1v1h-1zM2 -4h1v1h-1zM5 -8h5v1h-5zM0 -7h1v1h-1zM4 -5h7v1h-7zM0 -3h2v1h-2zM6 -3h1v1h-1zM5 0h1v1h-1zM9 -2h1v1h-1zM4 -1h5v1h-5zM10 -1h1v2h-1z"/><path id="g89" d="M2 -10h1v1h-1zM8 -10h1v1h-1zM3 -9h1v1h-1zM7 -9h1v1h-1zM1 -8h9v1h-9zM2 -4h7v1h-7zM0 0h11v1h-11z"/><path id="g90" d="M5 -10h1v1h-1zM6 -9h1v3h-1zM3 -8h1v8h-1zM9 -6h1v1h-1zM1 -5h1v3h-1zM10 -5h1v3h-1zM8 -3h1v3h-1zM0 -2h1v1h-1zM4 0h5v1h-5z"/><path id="g91" d="M1 -10h11v1h-11zM2 -5h9v1h-9zM0 0h13v1h-13z"/><path id="g92" d="M7 -11h2v3h-2zM2 -11h2v3h-2zM2 -1h2v1h-2zM7 -4h2v5h-2zM2 -8h7v1h-7zM1 -7h2v2h-2zM5 -7h5v1h-5zM5 -6h6v1h-6zM0 -5h4v1h-4zM5 -5h4v1h-4zM10 -5h2v1h-2zM3 -4h3v1h-3zM11 -4h2v1h-2zM4 -3h2v1h-2zM3 -2h2v1h-2zM0 0h3v1h-3z"/><path id="g93" d="M11 -11h2v1h-2zM10 -10h2v1h-2zM2 -10h2v4h-2zM5 -10h2v4h-2zM9 -9h2v1h-2zM8 -8h2v1h-2zM11 -7h2v1h-2zM10 -6h2v1h-2zM9 -5h2v1h-2zM1 -11h7v1h-7zM11 -3h2v1h-2zM2 -5h2v4h-2zM5 -5h2v5h-2zM10 -2h2v1h-2zM9 -1h2v1h-2zM8 -4h2v1h-2zM0 -6h9v1h-9zM1 -1h2v1h-2zM0 0h2v1h-2zM5 0h5v1h-5z"/><path id="g94" d="M3 -10h9v1h-9zM3 -9h2v2h-2zM3 -7h9v1h-9zM3 -5h2v2h-2zM10 -9h2v2h-2zM3 -6h4v1h-4zM6 -5h2v2h-2zM2 -3h2v2h-2zM7 -3h2v1h-2zM8 -2h2v1h-2zM1 -1h2v1h-2zM9 -1h2v1h-2zM0 0h2v1h-2zM10 0h3v1h-3z"/><path id="g95" d="M7 -11h2v3h-2zM7 -7h2v7h-2zM0 -8h13v1h-13zM2 -6h2v1h-2zM3 -5h2v2h-2zM5 0h4v1h-4z"/><path id="g96" d="M5 -7h1v1h-1zM0 -8h5v1h-5zM0 -1h5v1h-5zM0 -7h1v6h-1zM5 -2h1v1h-1zM6 -6h1v4h-1z"/><path id="g97" d="M4 -7h1v2h-1zM0 -8h4v1h-4zM0 -1h4v1h-4zM4 -4h1v3h-1zM1 -5h3v1h-3z"/><path id="g98" d="M4 -8h1v2h-1zM1 -6h4v1h-4zM4 -5h1v4h-1zM1 -1h4v1h-4zM0 -5h1v4h-1z"/><path id="g99" d="M3 -8h1v2h-1zM2 -6h1v2h-1zM4 -6h1v2h-1zM1 -4h1v1h-1zM5 -4h1v1h-1zM1 -3h5v1h-5zM0 -2h1v2h-1zM6 -2h1v2h-1z"/><path id="g100" d="M5 -10h6v1h-6zM2 -10h1v3h-1zM5 -9h1v1h-1zM7 -9h1v2h-1zM10 -9h1v2h-1zM2 -7h2v1h-2zM4 -8h2v1h-2zM10 -6h1v3h-1zM5 -7h6v1h-6zM0 -7h1v3h-1zM5 -6h1v3h-1zM10 -2h1v1h-1zM2 -6h1v3h-1zM5 -1h6v1h-6zM5 0h1v1h-1zM7 -6h1v2h-1zM10 0h1v1h-1zM4 -2h2v1h-2zM0 0h1v1h-1zM2 -3h2v1h-2zM7 -4h2v1h-2zM5 -3h2v1h-2zM9 -3h2v1h-2zM1 -2h1v2h-1z"/><path id="g101" d="M2 -10h1v2h-1zM6 -10h1v2h-1zM8 -10h1v2h-1zM8 -8h3v1h-3zM6 -7h1v2h-1zM8 -7h1v2h-1zM2 -7h1v2h-1zM8 -5h3v1h-3zM6 -4h1v2h-1zM8 -4h1v2h-1zM2 -3h1v3h-1zM6 -1h1v2h-1zM8 -1h1v2h-1zM0 -8h7v1h-7zM8 -2h3v1h-3zM2 -5h5v1h-5zM1 -4h2v1h-2zM0 -3h1v1h-1zM4 -2h3v1h-3zM0 0h3v1h-3z"/><path id="g102" d="M0 -8h5v1h-5zM0 -7h1v2h-1zM0 -5h5v1h-5zM0 -1h5v1h-5zM0 -4h1v3h-1z"/><path id="g103" d="M0 -8h1v2h-1zM0 -6h4v1h-4zM0 -5h1v4h-1zM0 -1h4v1h-4zM4 -5h1v4h-1z"/><path id="g104" d="M5 -10h1v2h-1zM8 -10h1v2h-1zM2 -9h1v2h-1zM5 -7h1v2h-1zM8 -7h1v2h-1zM1 -10h1v1h-1zM1 -1h1v1h-1zM5 -4h1v2h-1zM8 -4h1v4h-1zM2 -4h1v3h-1zM4 -8h6v1h-6zM0 -6h3v1h-3zM2 -5h9v1h-9zM4 -2h1v1h-1zM3 -1h1v1h-1zM0 0h1v1h-1zM4 0h7v1h-7z"/><path id="g105" d="M3 -9h1v1h-1zM3 -6h4v1h-4zM4 -10h1v1h-1zM3 -5h1v2h-1zM0 -8h10v1h-10zM0 -7h1v8h-1zM9 -7h1v7h-1zM3 -3h4v1h-4zM6 -5h1v2h-1zM7 0h3v1h-3z"/><path id="g106" d="M0 -6h4v1h-4zM0 -5h1v5h-1zM4 -5h1v5h-1z"/><path id="g107" d="M0 -8h3v1h-3zM2 -7h1v6h-1zM0 -1h5v1h-5z"/><path id="g108" d="M1 -8h3v1h-3zM0 -7h1v2h-1zM4 -7h1v2h-1zM1 -5h3v1h-3zM1 -1h3v1h-3zM0 -4h1v3h-1zM4 -4h1v3h-1z"/></defs>
<g transform="scale(0.909091)">
<g fill="#0c1a2a" stroke="#0c1a2a" stroke-width="0.15"><use href="#g4" x="61" y="136"/><use href="#g5" x="73" y="136"/><use href="#g6" x="85" y="136"/><use href="#g7" x="97" y="136"/><use href="#g8" x="109" y="136"/><use href="#g9" x="121" y="136"/><use href="#g10" x="133" y="136"/><use href="#g11" x="145" y="136"/><use href="#g12" x="157" y="136"/><use href="#g13" x="169" y="136"/><use href="#g14" x="181" y="136"/><use href="#g15" x="193" y="136"/><use href="#g16" x="205" y="136"/><use href="#g17" x="217" y="136"/><use href="#g13" x="229" y="136"/><use href="#g18" x="241" y="136"/><use href="#g19" x="253" y="136"/><use href="#g16" x="265" y="136"/><use href="#g17" x="277" y="136"/><use href="#g20" x="289" y="136"/><use href="#g21" x="301" y="136"/><use href="#g22" x="313" y="136"/><use href="#g23" x="325" y="136"/><use href="#g24" x="337" y="136"/><use href="#g25" x="349" y="136"/><use href="#g26" x="361" y="136"/><use href="#g27" x="373" y="136"/><use href="#g18" x="385" y="136"/><use href="#g7" x="397" y="136"/><use href="#g8" x="409" y="136"/><use href="#g28" x="421" y="136"/><use href="#g29" x="433" y="136"/><use href="#g30" x="445" y="136"/><use href="#g31" x="457" y="136"/><use href="#g32" x="469" y="136"/><use href="#g33" x="481" y="136"/><use href="#g34" x="37" y="157"/><use href="#g35" x="49" y="157"/><use href="#g36" x="55" y="157"/><use href="#g36" x="61" y="157"/><use href="#g37" x="67" y="157"/><use href="#g35" x="73" y="157"/><use href="#g38" x="79" y="157"/><use href="#g39" x="85" y="157"/><use href="#g40" x="91" y="157"/><use href="#g41" x="95.5" y="157"/><use href="#g42" x="37" y="178"/><use href="#g43" x="49" y="178"/><use href="#g44" x="61" y="178"/><use href="#g45" x="73" y="178"/><use href="#g46" x="85" y="178"/><use href="#g47" x="97" y="178"/><use href="#g48" x="109" y="178"/><use href="#g49" x="121" y="178"/><use href="#g50" x="133" y="178"/><use href="#g51" x="145" y="178"/><use href="#g52" x="157" y="178"/><use href="#g53" x="169" y="178"/><use href="#g54" x="181" y="178"/><use href="#g55" x="193" y="178"/><use href="#g34" x="205" y="178"/><use href="#g8" x="217" y="178"/><use href="#g25" x="229" y="178"/><use href="#g56" x="241" y="178"/><use href="#g57" x="253" y="178"/><use href="#g58" x="265" y="178"/><use href="#g59" x="277" y="178"/><use href="#g8" x="289" y="178"/><use href="#g25" x="301" y="178"/><use href="#g20" x="313" y="178"/><use href="#g60" x="325" y="178"/><use href="#g61" x="337" y="178"/><use href="#g25" x="349" y="178"/><use href="#g20" x="361" y="178"/><use href="#g62" x="373" y="178"/><use href="#g63" x="385" y="178"/><use href="#g64" x="397" y="178"/><use href="#g65" x="409" y="178"/><use href="#g41" x="419.5" y="178"/><use href="#g60" x="61" y="232.6"/><use href="#g61" x="73" y="232.6"/><use href="#g25" x="85" y="232.6"/><use href="#g20" x="97" y="232.6"/><use href="#g65" x="109" y="232.6"/><use href="#g42" x="121" y="232.6"/><use href="#g43" x="133" y="232.6"/><use href="#g44" x="145" y="232.6"/><use href="#g71" x="157" y="232.6"/><use href="#g16" x="169" y="232.6"/><use href="#g17" x="181" y="232.6"/><use href="#g72" x="193" y="232.6"/><use href="#g73" x="205" y="232.6"/><use href="#g74" x="217" y="232.6"/><use href="#g75" x="229" y="232.6"/><use href="#g76" x="241" y="232.6"/><use href="#g77" x="253" y="232.6"/><use href="#g78" x="265" y="232.6"/><use href="#g79" x="277" y="232.6"/><use href="#g80" x="289" y="232.6"/><use href="#g42" x="301" y="232.6"/><use href="#g81" x="313" y="232.6"/><use href="#g18" x="325" y="232.6"/><use href="#g82" x="337" y="232.6"/><use href="#g83" x="349" y="232.6"/><use href="#g11" x="361" y="232.6"/><use href="#g72" x="373" y="232.6"/><use href="#g73" x="385" y="232.6"/><use href="#g84" x="397" y="232.6"/><use href="#g85" x="409" y="232.6"/><use href="#g22" x="421" y="232.6"/><use href="#g86" x="433" y="232.6"/><use href="#g85" x="445" y="232.6"/><use href="#g9" x="457" y="232.6"/><use href="#g83" x="469" y="232.6"/><use href="#g11" x="481" y="232.6"/><use href="#g87" x="37" y="253"/><use href="#g88" x="49" y="253"/><use href="#g89" x="61" y="253"/><use href="#g13" x="73" y="253"/><use href="#g90" x="85" y="253"/><use href="#g41" x="95.5" y="253"/></g>
<g fill="#142838"><use href="#g0" x="35" y="23"/><use href="#g1" x="48.5" y="20.5"/><use href="#g2" x="61" y="23"/><use href="#g3" x="74" y="23"/><use href="#g66" x="37" y="212"/><use href="#g1" x="50.5" y="209.5"/><use href="#g67" x="63" y="212"/><use href="#g68" x="76" y="212"/><use href="#g69" x="89" y="212"/><use href="#g70" x="102" y="212"/><use href="#g91" x="35" y="334.5"/><use href="#g1" x="48.5" y="332"/><use href="#g92" x="61" y="334.5"/><use href="#g93" x="74" y="334.5"/><use href="#g94" x="87" y="334.5"/><use href="#g95" x="100" y="334.5"/></g>
</g>
<defs>
<linearGradient id="rimg" x1="0" x2="1" y1="0" y2="0"><stop offset="0" stop-color="#3e3e3e"/><stop offset="0.4" stop-color="#707070"/><stop offset="0.7" stop-color="#c4c4c4"/><stop offset="1" stop-color="#a8a8a8"/></linearGradient>
<linearGradient id="bodyg" x1="0" x2="1" y1="0" y2="0"><stop offset="0" stop-color="#555"/><stop offset="0.25" stop-color="#6c6c6c"/><stop offset="0.7" stop-color="#727272"/><stop offset="1" stop-color="#5c5c5c"/></linearGradient>
<linearGradient id="tubeg" x1="0" x2="1" y1="0" y2="0"><stop offset="0" stop-color="#585858"/><stop offset="0.1" stop-color="#747474"/><stop offset="0.45" stop-color="#808080"/><stop offset="0.88" stop-color="#7a7a7a"/><stop offset="1" stop-color="#5e5e5e"/></linearGradient>
<linearGradient id="capg" x1="0" x2="1" y1="0" y2="0"><stop offset="0" stop-color="#404040"/><stop offset="0.35" stop-color="#555"/><stop offset="0.7" stop-color="#5c5c5c"/><stop offset="1" stop-color="#4a4a4a"/></linearGradient>
<linearGradient id="pipeg" x1="0" x2="0" y1="0" y2="1"><stop offset="0" stop-color="#8c8c8c"/><stop offset="0.3" stop-color="#b8b8b8"/><stop offset="0.65" stop-color="#a0a0a0"/><stop offset="1" stop-color="#707070"/></linearGradient>
<linearGradient id="yokeg" x1="0" x2="1" y1="0" y2="0"><stop offset="0" stop-color="#444"/><stop offset="0.3" stop-color="#575757"/><stop offset="0.7" stop-color="#555"/><stop offset="1" stop-color="#424242"/></linearGradient>
<filter id="soft" x="-5%" y="-5%" width="110%" height="110%"><feGaussianBlur stdDeviation="0.7"/></filter>
</defs>
<g filter="url(#soft)">
<!-- ===== left valve ===== -->
<!-- base flange -->
<ellipse cx="507" cy="239.5" rx="28.2" ry="12" fill="#505050"/>
<ellipse cx="507" cy="237" rx="28" ry="10.5" fill="#686868"/>
<circle cx="486.3" cy="249" r="2" fill="#3a3a3a"/><circle cx="518.4" cy="251.5" r="2" fill="#3a3a3a"/>

<path d="M524.5,219.5 Q530,220.5 535.5,224 L535.5,230 L528.5,231 L524.5,231 Z" fill="#fafafa"/>
<!-- outlet pipe -->
<path d="M522,192 Q530,190.5 536,189.5 L536,223 Q530,219 522,218.5 Z" fill="#666"/>
<!-- outlet flange -->
<ellipse cx="542.5" cy="206.5" rx="6" ry="27.5" fill="#4e4e4e"/>
<ellipse cx="540" cy="206.5" rx="4" ry="26.5" fill="#6e6e6e"/>
<path d="M541.5,180 Q544,206 541.5,233" stroke="#383838" stroke-width="1.3" fill="none"/>
<rect x="545.5" y="182.5" width="6.5" height="7" rx="2" fill="#474747"/>
<rect x="545.5" y="212" width="6.5" height="7" rx="2" fill="#474747"/>
<rect x="545" y="223.5" width="6" height="6.5" rx="2" fill="#474747"/>
<!-- white gap under outlet -->

<!-- body -->
<path d="M488,181 L524.5,181 L524.5,231 Q507,235 488,231 Z" fill="url(#bodyg)"/>
<ellipse cx="486" cy="210.4" rx="3.5" ry="7.5" fill="#5a5a5a"/>
<rect x="496.7" y="193.7" width="12.6" height="8.6" rx="2.5" fill="#2c2c2c"/>
<rect x="499" y="196" width="2.5" height="4" fill="#888"/><rect x="503.5" y="196" width="2.5" height="4" fill="#888"/>
<path d="M501.2,226 L501.2,211.4 L513.5,211.4 L515.4,213.4 L513.5,215.4 L504.8,215.4 L504.8,226 Z" fill="#e8e8e8"/>
<rect x="521.2" y="224.6" width="7.3" height="7.3" rx="2" fill="#4e4e4e"/>
<!-- neck -->
<path d="M490,174 L524.4,174 L524.4,183 Q507,186 490,183 Z" fill="#585858"/>
<path d="M490,181 Q507,184 524.4,181" stroke="#8a8a8a" stroke-width="1" fill="none"/>
<!-- bonnet flange -->
<rect x="482" y="160.5" width="49.5" height="14" rx="2.5" fill="#585858"/>
<rect x="482" y="167" width="49.5" height="1.8" fill="#3c3c3c"/>
<!-- yoke dome -->
<path d="M484,162 L484.5,148 Q486,134 496,131 L518,131 Q528,134 529.5,148 L530,162 Z" fill="url(#yokeg)"/>
<path d="M494,159 L494,146 Q495,141.5 499,141.5 L502.5,141.5 L502.5,159 Z" fill="#f2f2f2"/>
<path d="M511,159 L511,141.5 L516,141.5 Q520,141.5 520.5,146 L520.5,159 Z" fill="#f2f2f2"/>
<rect x="502.5" y="141" width="8.5" height="19" fill="#5a5a5a"/>
<path d="M493.5,154 Q500,149 507,151 Q514,148 519,152 L520.5,157 L520.5,160 L493.5,160 Z" fill="#484848"/>
<!-- yoke top block -->
<rect x="495.5" y="124.5" width="22.5" height="7.5" fill="#4e4e4e"/>
<!-- nut & stem -->
<rect x="502.7" y="98" width="8.6" height="20" fill="#3e3e3e"/>
<rect x="499.3" y="116" width="15.7" height="9" rx="3" fill="#3a3a3a"/>
<!-- handwheel -->
<path d="M470,88 Q471,82 507,81.5 Q543.7,82 543.7,89 L543.7,93 Q540,97.5 507,98.5 Q472,98 470,92.5 Z" fill="url(#rimg)"/>
<ellipse cx="507" cy="86" rx="37" ry="5" fill="#dedede"/>
<path d="M479,85.3 Q482,83.2 496,83.2 L494.5,86.3 Q483,86.8 479,85.3 Z" fill="#555"/>
<path d="M502,82.8 Q525,82.3 535.5,84.5 Q532,86.5 516,86.8 L510,84.6 Z" fill="#555"/>
<rect x="498.7" y="97" width="15.8" height="3" fill="#444"/>

<!-- ===== right valve ===== -->
<!-- side pipe -->
<path d="M590,164 L609,164 L609,197 L590,197 Z" fill="url(#pipeg)"/>
<ellipse cx="590" cy="180.5" rx="3.5" ry="16.5" fill="#4a4a4a"/>
<ellipse cx="591" cy="180.5" rx="1.8" ry="14.5" fill="#9a9a9a"/>
<!-- body tube -->
<path d="M608,119 L648.5,119 L648.5,240 Q648.5,244.5 643,244.5 L613,244.5 Q608,244.5 608,240 Z" fill="url(#tubeg)"/>
<!-- label -->
<ellipse cx="620" cy="173" rx="10.2" ry="17.5" fill="#cfcfcf"/>
<ellipse cx="620" cy="173" rx="9" ry="16.3" fill="#222"/>
<rect x="614" y="159.5" width="4" height="15" fill="#eee"/>
<rect x="623.5" y="160" width="2" height="26" fill="#8a8a8a"/>
<!-- cap -->
<path d="M606,84 Q606,80.5 627,80 Q648.5,80.5 648.5,84 L648.5,121 L606,121 Z" fill="url(#capg)"/>
<path d="M606,84 Q606,80.5 627,80 Q648.5,80.5 648.5,84 L648.5,91 L606,91 Z" fill="#6c6c6c"/>
<rect x="612" y="90" width="17" height="2.2" fill="#9a9a9a"/>
<rect x="629.5" y="80.5" width="7.5" height="37" fill="#383838"/>
<rect x="637.5" y="82" width="10" height="9" fill="#a8a8a8"/>
<rect x="638" y="91" width="9" height="1.5" fill="#c0c0c0"/>
<rect x="606" y="117" width="42.5" height="2" fill="#606060"/>
<rect x="606" y="119" width="42.5" height="2" fill="#353535"/>
</g>

<line class="c" x1="143.5" y1="317" x2="143.5" y2="514"/><line class="t" x1="143.5" y1="514" x2="143.5" y2="541"/><polyline class="k" points="112.3,360.3 112.3,333.1 118.1,325.7 165.7,325.9 174.8,334.1 174.8,360.3"/><line class="k" x1="112.3" y1="360.3" x2="174.8" y2="360.3"/><polyline class="k" points="112.3,360.3 115.6,364.9 112.1,371.2"/><polyline class="k" points="174.8,360.3 170.2,364.9 174.8,371.2"/><line class="k" x1="115.6" y1="364.9" x2="170.2" y2="364.9"/><line class="k" x1="112.1" y1="371.2" x2="174.8" y2="371.2"/><polyline class="k2" points="115.6,329.5 115.6,347.2 126.7,347.2 126.7,331.1"/><polyline class="k2" points="121.6,325.7 126.7,331.1 135.2,331.1 139.3,325.8"/><polyline class="k2" points="135.2,331.1 135.2,347.2 151.6,347.2 151.6,330.6"/><polyline class="k2" points="148.6,325.9 151.6,330.6 159.7,330.6 165.2,325.9"/><polyline class="k2" points="159.7,330.6 159.7,347.3 170.7,347.3 170.7,331.5"/><polyline class="k" points="112.1,371.2 112.3,508.5 115,514.5"/><polyline class="k" points="174.8,371.2 174.8,415.1"/><polyline class="k" points="174.8,458.8 174.3,509 170.5,514.5"/><polyline class="k" points="174.8,415.1 192.4,415.1 192.4,458.8 174.8,458.8"/><path class="k" d="M174.8,415.1 Q157,436.9 174.8,458.8"/><path class="t" d="M178.5,457 Q180.5,434 191.5,428.5"/><line class="k2" x1="180.5" y1="448.2" x2="192.4" y2="448.2"/><line class="t" x1="180" y1="450.8" x2="192.4" y2="450.8"/><line class="t" x1="181" y1="458.8" x2="192.4" y2="449.6"/><line class="t" x1="187" y1="458.8" x2="192.4" y2="454.4"/><polyline class="k2" points="114.8,514.5 114.8,492.5 128.2,492.5 128.2,509.8"/><path class="k2" d="M125.3,514.5 L128.3,509.8 Q131.1,513.2 133.9,509.8 L137.3,514.5"/><polyline class="k2" points="134,509.8 134,493 151.5,493 151.5,507.5"/><polyline class="k2" points="158.5,506 158.5,493 166.5,493 166.5,501"/><line class="k2" x1="144.8" y1="514.5" x2="173.8" y2="496.3"/><line class="t" x1="150" y1="514.5" x2="161.3" y2="507"/><line class="k2" x1="161.3" y1="501.5" x2="161.3" y2="514.5"/><line class="t" x1="163.1" y1="500.4" x2="163.1" y2="514.5"/><line class="t" x1="164.5" y1="513.5" x2="173.8" y2="505.5"/><line class="t" x1="164.5" y1="507.5" x2="173.8" y2="499.5"/><line class="t" x1="164.5" y1="501" x2="170.5" y2="497.6"/><line class="k" x1="55.5" y1="514.6" x2="171" y2="514.6"/><line class="t" x1="55" y1="325.9" x2="118" y2="325.9"/><line class="t" x1="64.2" y1="326.3" x2="64.2" y2="514.3"/><polygon class="ah" points="64.2,326.3 66.2,332.8 62.2,332.8"/><polygon class="ah" points="64.2,514.3 62.2,507.8 66.2,507.8"/><line class="t" x1="80.2" y1="436.5" x2="112" y2="436.5"/><line class="t" x1="87.5" y1="436.7" x2="87.5" y2="514.3"/><polygon class="ah" points="87.5,436.7 89.5,443.2 85.5,443.2"/><polygon class="ah" points="87.5,514.3 85.5,507.8 89.5,507.8"/><line class="lb" x1="55.1" y1="418.6" x2="60.8" y2="418.6"/><line class="lb" x1="55.1" y1="422.4" x2="60.8" y2="422.4"/><line class="lb" x1="58" y1="418.6" x2="58" y2="422.4"/><line class="lb" x1="79.2" y1="474.2" x2="85.6" y2="474.2"/><line class="lb" x1="79.2" y1="477.2" x2="85.6" y2="477.2"/><line class="lb" x1="82.4" y1="474.2" x2="82.4" y2="477.2"/><line class="lb" x1="79.2" y1="471" x2="85.6" y2="471"/><line class="t" x1="112.6" y1="401" x2="174.4" y2="401"/><polygon class="ah" points="112.6,401 119.1,399 119.1,403"/><polygon class="ah" points="174.4,401 167.9,403 167.9,399"/><g transform="translate(147,398.6) scale(0.8)" fill="#1a1a1a" stroke="#1a1a1a" stroke-width="0.55"><use href="#g96" x="0" y="0"/><use href="#g97" x="8" y="0"/></g><line class="c" x1="112" y1="436.4" x2="210" y2="436.4"/><line class="t" x1="217" y1="436.4" x2="250" y2="436.4"/><polygon class="ah" points="256,436.4 249,438.6 249,434.2"/><g transform="translate(221.5,432.8) scale(0.77)" fill="#1a1a1a" stroke="#1a1a1a" stroke-width="0.55"><use href="#g83" x="0" y="0"/><use href="#g11" x="12" y="0"/><use href="#g87" x="24" y="0"/></g><polyline class="t" points="179,456.5 224.4,411.2 250,411.2"/><g transform="translate(233.8,408.8) scale(0.75)" fill="#1a1a1a" stroke="#1a1a1a" stroke-width="0.55"><use href="#g98" x="0" y="0"/></g><line class="t" x1="192.3" y1="459" x2="192.3" y2="541"/><line class="t" x1="143.7" y1="536.3" x2="192" y2="536.3"/><polygon class="ah" points="143.7,536.3 150.2,534.3 150.2,538.3"/><polygon class="ah" points="192,536.3 185.5,538.3 185.5,534.3"/><g transform="translate(164.6,533.6) scale(0.72)" fill="#1a1a1a" stroke="#1a1a1a" stroke-width="0.55"><use href="#g99" x="0" y="0"/></g><polyline class="t" points="92.1,543.1 113.3,543.1 161.5,508.5"/><g transform="translate(100.4,538.6) scale(0.75)" fill="#1a1a1a" stroke="#1a1a1a" stroke-width="0.55"><use href="#g98" x="0" y="0"/></g><line class="t" x1="143.3" y1="556" x2="143.3" y2="585"/><polygon class="ah" points="143.3,551 145.5,558 141.1,558"/><g transform="translate(130.6,563.6) scale(0.72)" fill="#1a1a1a" stroke="#1a1a1a" stroke-width="0.3"><use href="#g87" x="0" y="0"/></g><g transform="translate(130.8,574) scale(0.7)" fill="#1a1a1a" stroke="#1a1a1a" stroke-width="0.2"><use href="#g100" x="0" y="0"/></g><g transform="translate(130.8,584) scale(0.7)" fill="#1a1a1a" stroke="#1a1a1a" stroke-width="0.2"><use href="#g101" x="0" y="0"/></g><line class="c" x1="376.7" y1="336" x2="376.7" y2="546"/><rect class="k" x="350.2" y="345.9" width="51.7" height="4.3"/><polyline class="k" points="350.2,350.2 367.6,362.6 385.1,362.6 401.9,350.2"/><polygon class="k2" points="361,351.2 371.5,351.2 371.5,357"/><polygon class="k2" points="382,351.2 392.5,351.2 382,357"/><line class="t" x1="402" y1="346.4" x2="528.5" y2="346.4"/><line class="k2" x1="368" y1="362.6" x2="368" y2="404"/><line class="k2" x1="370.4" y1="362.6" x2="370.4" y2="404"/><line class="k2" x1="382.6" y1="362.6" x2="382.6" y2="404"/><line class="k2" x1="385" y1="362.6" x2="385" y2="404"/><rect class="k2" x="366.8" y="374.6" width="19.4" height="4.1"/><path class="k" d="M367,378.7 Q360,392 354.5,410"/><path class="k" d="M386.2,378.7 Q393,392 398.5,410"/><path class="k" d="M361.5,410 Q364,394 369.5,391.5 L383.5,391.5 Q389,394 391.5,410"/><rect class="k2" x="371.5" y="400.5" width="10.5" height="5"/><rect class="k2" x="369" y="405.5" width="15.5" height="3.3"/><rect class="k2" x="366.5" y="408.8" width="20.5" height="2.7"/><rect class="k2" x="345.8" y="406.2" width="6.7" height="5.3"/><rect class="k2" x="347.2" y="404" width="4" height="2.2"/><rect class="k2" x="399.5" y="406.2" width="6.7" height="5.3"/><rect class="k2" x="400.9" y="404" width="4" height="2.2"/><rect class="k" x="343.9" y="411.5" width="63.8" height="3.8"/><rect class="k" x="343.9" y="418.9" width="63.8" height="3.5"/><polyline class="k" points="355.2,422.4 355.2,434.5 351,438.3 351,502.4 358.7,502.4 358.7,512.9"/><path class="k" d="M397,422.4 L397,431 Q397.5,434 401,435 Q403.5,436.2 404,438.6 L410.6,438.6"/><line class="k3" x1="366.9" y1="434.8" x2="388.1" y2="434.8"/><path class="k2" d="M399.4,451.4 Q392,462 401.7,477.2"/><path class="k" d="M351,466.6 A9,6.4 0 0 0 351,479.4"/><line class="t" x1="346.5" y1="468" x2="346.5" y2="478"/><line class="t" x1="348.8" y1="467" x2="348.8" y2="479"/><rect class="k" x="410.6" y="432.4" width="6" height="54.9"/><polyline class="k2" points="416.6,442.6 419.2,443.8 420.9,443.8 420.9,476.2 419.2,476.2 416.6,477.5"/><line class="t" x1="416.6" y1="432.4" x2="466.6" y2="432.4"/><line class="t" x1="410.6" y1="487.3" x2="466.6" y2="487.3"/><line class="t" x1="420.9" y1="443.8" x2="450" y2="443.8"/><line class="t" x1="420.9" y1="476.2" x2="450" y2="476.2"/><line class="t" x1="443.9" y1="444.1" x2="443.9" y2="475.9"/><polygon class="ah" points="443.9,444.1 445.9,450.6 441.9,450.6"/><polygon class="ah" points="443.9,475.9 441.9,469.4 445.9,469.4"/><line class="t" x1="460.5" y1="432.7" x2="460.5" y2="487"/><polygon class="ah" points="460.5,432.7 462.5,439.2 458.5,439.2"/><polygon class="ah" points="460.5,487 458.5,480.5 462.5,480.5"/><g transform="translate(440,464.2) rotate(-90) scale(0.68)" fill="#1a1a1a" stroke="#1a1a1a" stroke-width="0.55"><use href="#g96" x="0" y="0"/><use href="#g36" x="8" y="0"/></g><g transform="translate(457.8,462.3) rotate(-90) scale(0.62)" fill="#1a1a1a" stroke="#1a1a1a" stroke-width="0.55"><use href="#g96" x="0" y="0"/></g><line class="t" x1="474" y1="460.1" x2="500.6" y2="460.1"/><polygon class="ah" points="468.8,460.1 475.8,457.9 475.8,462.3"/><g transform="translate(484,457.8) scale(0.8)" fill="#1a1a1a" stroke="#1a1a1a" stroke-width="0.55"><use href="#g102" x="0" y="0"/></g><polyline class="t" points="421.2,459.3 464.3,398.8 491.5,398.8"/><g transform="translate(464,395.2) scale(0.77)" fill="#1a1a1a" stroke="#1a1a1a" stroke-width="0.55"><use href="#g83" x="0" y="0"/><use href="#g11" x="12" y="0"/><use href="#g87" x="24" y="0"/></g><path class="k" d="M410.6,476.7 Q406,480 405.5,487 Q405,496 401.2,500.6 L401.2,512.9"/><line class="k3" x1="366.5" y1="502.7" x2="385.8" y2="502.7"/><line class="k3" x1="393.7" y1="502.7" x2="399.8" y2="502.7"/><rect class="k" x="350.4" y="512.9" width="59.6" height="5.8"/><rect class="k2" x="358.7" y="518.7" width="42.5" height="4.2"/><line class="t" x1="311.4" y1="523" x2="528.5" y2="523"/><line class="c" x1="310.7" y1="459.8" x2="424.5" y2="459.8"/><line class="t" x1="320.1" y1="460.1" x2="320.1" y2="522.6"/><polygon class="ah" points="320.1,460.1 322.1,466.6 318.1,466.6"/><polygon class="ah" points="320.1,522.6 318.1,516.1 322.1,516.1"/><line class="lb" x1="309.8" y1="493.6" x2="316.5" y2="493.6"/><line class="lb" x1="309.8" y1="496.7" x2="316.5" y2="496.7"/><line class="lb" x1="313.1" y1="493.6" x2="313.1" y2="496.7"/><line class="lb" x1="309.8" y1="490.8" x2="316.5" y2="490.8"/><line class="t" x1="410.6" y1="487.3" x2="410.6" y2="508.5"/><line class="t" x1="420.9" y1="476.2" x2="420.9" y2="545.3"/><line class="t" x1="400" y1="502.9" x2="441.6" y2="502.9"/><polygon class="ah" points="410.6,502.9 404.6,504.9 404.6,500.9"/><polygon class="ah" points="420.8,502.9 426.8,500.9 426.8,504.9"/><g transform="translate(432.3,501.7) scale(0.7)" fill="#1a1a1a" stroke="#1a1a1a" stroke-width="0.55"><use href="#g103" x="0" y="0"/></g><line class="t" x1="377" y1="539.7" x2="420.5" y2="539.7"/><polygon class="ah" points="377,539.7 383.5,537.7 383.5,541.7"/><polygon class="ah" points="420.5,539.7 414,541.7 414,537.7"/><g transform="translate(395.2,537.4) scale(0.72)" fill="#1a1a1a" stroke="#1a1a1a" stroke-width="0.55"><use href="#g99" x="0" y="0"/></g><polyline class="t" points="374.4,523.5 328.2,557.5 297.5,557.5"/><g transform="translate(298,555.6) scale(0.77)" fill="#1a1a1a" stroke="#1a1a1a" stroke-width="0.55"><use href="#g104" x="0" y="0"/><use href="#g11" x="12" y="0"/><use href="#g87" x="24" y="0"/></g><line class="t" x1="376.3" y1="562" x2="376.3" y2="592.2"/><polygon class="ah" points="376.3,556.3 378.5,563.3 374.1,563.3"/><g transform="translate(366.7,573.8) scale(0.75)" fill="#1a1a1a" stroke="#1a1a1a" stroke-width="0.55"><use href="#g102" x="0" y="0"/></g><line class="t" x1="402" y1="346.6" x2="528.5" y2="346.6"/><line class="t" x1="519.6" y1="347" x2="519.6" y2="522.6"/><polygon class="ah" points="519.6,347 521.6,353.5 517.6,353.5"/><polygon class="ah" points="519.6,522.6 517.6,516.1 521.6,516.1"/><line class="lb" x1="511.2" y1="432.7" x2="517.3" y2="432.7"/><line class="lb" x1="511.2" y1="435.9" x2="517.3" y2="435.9"/><line class="lb" x1="514.2" y1="432.7" x2="514.2" y2="435.9"/><line class="c" x1="527.6" y1="461" x2="609.7" y2="461"/><line class="c" x1="569.4" y1="418.5" x2="569.4" y2="502.3"/><circle class="k" cx="569.4" cy="461" r="32.2"/><circle class="dash" cx="569.4" cy="461" r="26.9"/><circle class="k" cx="569.4" cy="461" r="20.3"/><circle class="k" cx="569.4" cy="461" r="15"/><circle class="k2" cx="569.4" cy="461" r="11.5"/><circle class="k2" cx="547" cy="446.7" r="3.6"/><line class="t" x1="545.2" y1="448.9" x2="548.8" y2="444.5"/><circle class="k2" cx="591.1" cy="446.7" r="3.6"/><line class="t" x1="589.3" y1="448.9" x2="592.9" y2="444.5"/><circle class="k2" cx="547" cy="475.8" r="3.6"/><line class="t" x1="545.2" y1="478" x2="548.8" y2="473.6"/><circle class="k2" cx="591.1" cy="475.8" r="3.6"/><line class="t" x1="589.3" y1="478" x2="592.9" y2="473.6"/><g transform="translate(563.8,412.1) scale(0.8)" fill="#1a1a1a" stroke="#1a1a1a" stroke-width="0.55"><use href="#g102" x="0" y="0"/></g><g transform="translate(569,412.5) scale(0.7)" fill="#1a1a1a" stroke="#1a1a1a" stroke-width="0.55"><use href="#g105" x="0" y="0"/></g><polyline class="t" points="594.7,443.2 614,430 645,430"/><g transform="translate(615.8,427) scale(0.75)" fill="#1a1a1a" stroke="#1a1a1a" stroke-width="0.55"><use href="#g106" x="0" y="0"/></g><g transform="translate(620.8,427) scale(0.75)" fill="#1a1a1a" stroke="#1a1a1a" stroke-width="0.55"><use href="#g37" x="0" y="0"/></g><ellipse cx="629.2" cy="423.6" rx="3" ry="2.6" fill="none" stroke="#1a1a1a" stroke-width="1.1"/><line class="k2" x1="629.2" y1="420.2" x2="629.2" y2="427.2"/><g transform="translate(635,427) scale(0.75)" fill="#1a1a1a" stroke="#1a1a1a" stroke-width="0.55"><use href="#g107" x="0" y="0"/></g><g transform="translate(639.8,427) scale(0.75)" fill="#1a1a1a" stroke="#1a1a1a" stroke-width="0.55"><use href="#g108" x="0" y="0"/></g><polyline class="t" points="546.2,468.8 609.7,447.6 645,447.6"/><g transform="translate(621,444.2) scale(0.75)" fill="#1a1a1a" stroke="#1a1a1a" stroke-width="0.55"><use href="#g96" x="0" y="0"/></g><g transform="translate(627,444.2) scale(0.75)" fill="#1a1a1a" stroke="#1a1a1a" stroke-width="0.55"><use href="#g107" x="0" y="0"/></g>
</svg>
</body></html>
